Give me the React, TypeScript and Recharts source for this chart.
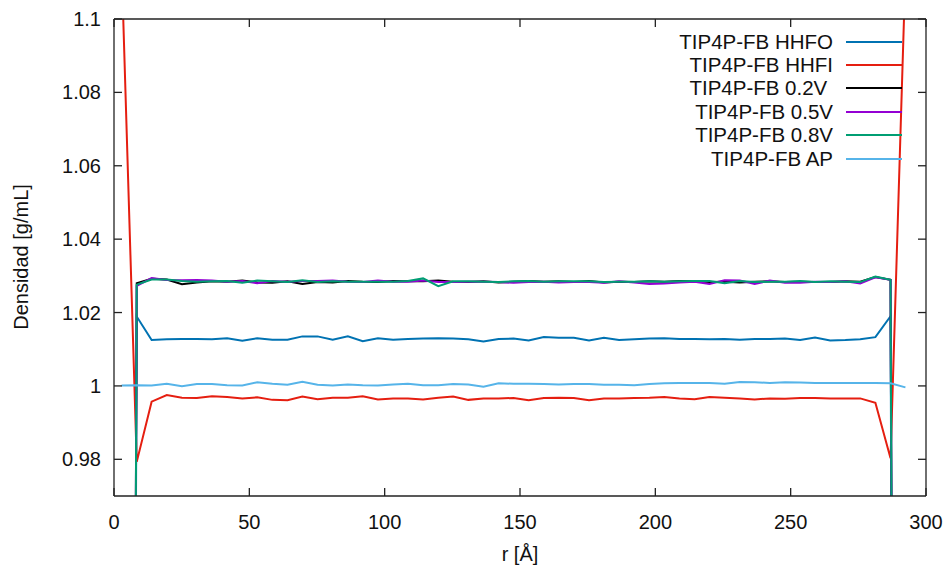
import React from 'react';
import { LineChart, Line, XAxis, YAxis, Label } from 'recharts';

// radial bins [Å]
const R = [
  2.8, 8.4, 13.9, 19.5, 25.1, 30.6, 36.2, 41.8, 47.4, 52.9, 58.5, 64.1, 69.6, 75.2, 80.8, 86.4, 91.9, 97.5,
  103.1, 108.6, 114.2, 119.8, 125.3, 130.9, 136.5, 142.1, 147.6, 153.2, 158.8, 164.3, 169.9, 175.5, 181.0,
  186.6, 192.2, 197.8, 203.3, 208.9, 214.5, 220.0, 225.6, 231.2, 236.7, 242.3, 247.9, 253.5, 259.0, 264.6,
  270.2, 275.7, 281.3, 286.9, 292.4,
];

const HHFO = [
  0, 1.0189, 1.0125, 1.0127, 1.0128, 1.0128, 1.0127, 1.013, 1.0123, 1.013, 1.0126, 1.0126, 1.0135, 1.0135,
  1.0126, 1.0135, 1.0122, 1.013, 1.0126, 1.0128, 1.0129, 1.013, 1.0129, 1.0127, 1.0121, 1.0128, 1.0129,
  1.0124, 1.0133, 1.0131, 1.0131, 1.0124, 1.0131, 1.0125, 1.0127, 1.0129, 1.013, 1.0128, 1.0128, 1.0127,
  1.0128, 1.0126, 1.0128, 1.0128, 1.0129, 1.0125, 1.0132, 1.0124, 1.0125, 1.0127, 1.0133, 1.019, 0,
];

const HHFI = [
  1.115, 0.9793, 0.9957, 0.9975, 0.9968, 0.9967, 0.9972, 0.997, 0.9966, 0.9969, 0.9962, 0.9961, 0.9971,
  0.9964, 0.9968, 0.9968, 0.9972, 0.9963, 0.9966, 0.9966, 0.9963, 0.9968, 0.9971, 0.9962, 0.9966, 0.9966,
  0.9967, 0.9961, 0.9967, 0.9968, 0.9967, 0.9961, 0.9966, 0.9966, 0.9967, 0.9968, 0.997, 0.9966, 0.9964,
  0.997, 0.9968, 0.9966, 0.9963, 0.9966, 0.9965, 0.9967, 0.9967, 0.9966, 0.9966, 0.9966, 0.9954, 0.9803,
  1.113,
];

const V02 = [
  0, 1.028, 1.0292, 1.029, 1.0277, 1.0282, 1.0285, 1.0284, 1.0287, 1.0282, 1.0281, 1.0285, 1.0278, 1.0283,
  1.0282, 1.0286, 1.0284, 1.0283, 1.0286, 1.0285, 1.0285, 1.0287, 1.0284, 1.0283, 1.0285, 1.0282, 1.0284,
  1.0286, 1.0284, 1.0285, 1.0283, 1.0286, 1.0282, 1.0284, 1.0283, 1.0285, 1.0284, 1.0286, 1.0285, 1.0283,
  1.0284, 1.0282, 1.0284, 1.0285, 1.0283, 1.0284, 1.0283, 1.0283, 1.0285, 1.0284, 1.0297, 1.0289, 0,
];

const V05 = [
  0, 1.0273, 1.0294, 1.0289, 1.0288, 1.0289, 1.0287, 1.0284, 1.0286, 1.028, 1.0286, 1.0284, 1.0286, 1.0286,
  1.0287, 1.0284, 1.0283, 1.0287, 1.0284, 1.0284, 1.0287, 1.0283, 1.0283, 1.0284, 1.0284, 1.0283, 1.0281,
  1.0283, 1.0284, 1.0282, 1.0283, 1.0283, 1.0281, 1.0285, 1.0282, 1.0278, 1.0279, 1.0282, 1.0284, 1.0278,
  1.0288, 1.0287, 1.0278, 1.0287, 1.0281, 1.0281, 1.0284, 1.0283, 1.0285, 1.0279, 1.0296, 1.0289, 0,
];

const V08 = [
  0, 1.0276, 1.029, 1.029, 1.0286, 1.0284, 1.0285, 1.0286, 1.0281, 1.0287, 1.0285, 1.0283, 1.0288, 1.0283,
  1.0285, 1.0284, 1.0284, 1.0284, 1.0284, 1.0286, 1.0293, 1.0272, 1.0285, 1.0285, 1.0284, 1.0283, 1.0285,
  1.0286, 1.0284, 1.0285, 1.0285, 1.0285, 1.0283, 1.0284, 1.0284, 1.0285, 1.0284, 1.0285, 1.0286, 1.0286,
  1.028, 1.0286, 1.0283, 1.0284, 1.0284, 1.0286, 1.0283, 1.0285, 1.0284, 1.0283, 1.0298, 1.0289, 0,
];

const AP = [
  1.0001, 1.0002, 1.0001, 1.0006, 0.9999, 1.0005, 1.0005, 1.0002, 1.0001, 1.001, 1.0006, 1.0003, 1.0011,
  1.0003, 1.0001, 1.0004, 1.0002, 1.0001, 1.0004, 1.0006, 1.0002, 1.0002, 1.0005, 1.0004, 0.9998, 1.0007,
  1.0006, 1.0006, 1.0005, 1.0004, 1.0005, 1.0005, 1.0003, 1.0003, 1.0002, 1.0005, 1.0007, 1.0008, 1.0008,
  1.0008, 1.0006, 1.0011, 1.001, 1.0008, 1.001, 1.0009, 1.0008, 1.0008, 1.0008, 1.0008, 1.0008, 1.0007,
  0.9996,
];

const X_TICKS = [0, 50, 100, 150, 200, 250, 300];
const Y_TICKS = [0.98, 1, 1.02, 1.04, 1.06, 1.08, 1.1];

const SERIES = [
  { key: 'hhfo', name: 'TIP4P-FB HHFO', color: '#0072b2', values: HHFO },
  { key: 'hhfi', name: 'TIP4P-FB HHFI', color: '#e51e10', values: HHFI },
  { key: 'v02', name: 'TIP4P-FB 0.2V ', color: '#000000', values: V02 },
  { key: 'v05', name: 'TIP4P-FB 0.5V', color: '#9400d3', values: V05 },
  { key: 'v08', name: 'TIP4P-FB 0.8V', color: '#009e73', values: V08 },
  { key: 'ap', name: 'TIP4P-FB AP', color: '#56b4e9', values: AP },
];

const data = R.map((r, i) => {
  const row: Record<string, number> = { r };
  SERIES.forEach((s) => (row[s.key] = s.values[i]));
  return row;
});

const FONT = '"Liberation Sans", Arial, sans-serif';
const TICK = 8;

const fmtY = (v: number) => String(Number(v.toFixed(2)));

const LeftTick = ({ x, y, payload }: any) => (
  <g>
    <line x1={x} x2={x + TICK} y1={y} y2={y} stroke="#222" strokeWidth={1.3} />
    <text x={x - 13} y={y} textAnchor="end" dominantBaseline="central" fontSize={20} fontFamily={FONT} fill="#111">
      {fmtY(payload.value)}
    </text>
  </g>
);

const RightTick = ({ x, y }: any) => (
  <line x1={x} x2={x - TICK} y1={y} y2={y} stroke="#222" strokeWidth={1.3} />
);

const BottomTick = ({ x, y, payload }: any) => (
  <g>
    <line x1={x} x2={x} y1={y} y2={y - TICK} stroke="#222" strokeWidth={1.3} />
    <text x={x} y={y + 26} textAnchor="middle" dominantBaseline="central" fontSize={20} fontFamily={FONT} fill="#111">
      {payload.value}
    </text>
  </g>
);

const TopTick = ({ x, y }: any) => (
  <line x1={x} x2={x} y1={y} y2={y + TICK} stroke="#222" strokeWidth={1.3} />
);

const ChartLegend = () => (
  <div
    style={{
      position: 'absolute',
      top: 30,
      left: 540,
      width: 362,
      fontFamily: FONT,
      fontSize: 20.5,
      color: '#111',
      pointerEvents: 'none',
    }}
  >
    {SERIES.map((s) => (
      <div key={s.key} style={{ display: 'flex', alignItems: 'center', justifyContent: 'flex-end', height: 23.4 }}>
        <span style={{ whiteSpace: 'pre' }}>{s.name}</span>
        <span style={{ display: 'inline-block', width: 56, height: 2, marginLeft: 13, background: s.color }} />
      </div>
    ))}
  </div>
);

export default function App() {
  return (
    <div style={{ position: 'absolute', left: 0, top: 0, width: 948, height: 567, background: '#fff' }}>
      <LineChart width={948} height={567} data={data} margin={{ top: 0, right: 0, bottom: 0, left: 0 }}>
        <XAxis
          xAxisId="b"
          dataKey="r"
          type="number"
          domain={[0, 300]}
          ticks={X_TICKS}
          height={71}
          tickSize={0}
          tickMargin={0}
          tickLine={false}
          tick={<BottomTick />}
          axisLine={{ stroke: '#222', strokeWidth: 1.3 }}
        >
          <Label
            content={() => (
              <text x={520} y={554} textAnchor="middle" dominantBaseline="central" fontSize={20} fontFamily={FONT} fill="#111">
                r [Å]
              </text>
            )}
          />
        </XAxis>
        <XAxis
          xAxisId="t"
          dataKey="r"
          type="number"
          orientation="top"
          domain={[0, 300]}
          ticks={X_TICKS}
          height={19}
          tickSize={0}
          tickMargin={0}
          tickLine={false}
          tick={<TopTick />}
          axisLine={{ stroke: '#222', strokeWidth: 1.3 }}
        />
        <YAxis
          yAxisId="l"
          type="number"
          domain={[0.97, 1.1]}
          ticks={Y_TICKS}
          allowDataOverflow
          width={114}
          tickSize={0}
          tickMargin={0}
          tickLine={false}
          tick={<LeftTick />}
          axisLine={{ stroke: '#222', strokeWidth: 1.3 }}
        >
          <Label
            content={() => (
              <text
                x={21}
                y={257}
                transform="rotate(-90 21 257)"
                textAnchor="middle"
                dominantBaseline="central"
                fontSize={20}
                fontFamily={FONT}
                fill="#111"
              >
                Densidad [g/mL]
              </text>
            )}
          />
        </YAxis>
        <YAxis
          yAxisId="r"
          orientation="right"
          type="number"
          domain={[0.97, 1.1]}
          ticks={Y_TICKS}
          allowDataOverflow
          width={22}
          tickSize={0}
          tickMargin={0}
          tickLine={false}
          tick={<RightTick />}
          axisLine={{ stroke: '#222', strokeWidth: 1.3 }}
        />
        {SERIES.map((s) => (
          <Line
            key={s.key}
            xAxisId="b"
            yAxisId="l"
            dataKey={s.key}
            name={s.name}
            stroke={s.color}
            strokeWidth={2}
            dot={false}
            type="linear"
            isAnimationActive={false}
          />
        ))}
      </LineChart>
      <ChartLegend />
    </div>
  );
}
